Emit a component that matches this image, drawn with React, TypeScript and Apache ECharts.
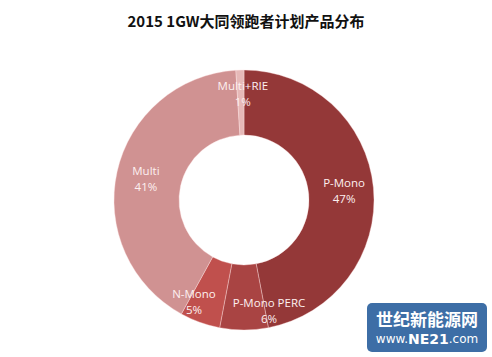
import React, { useEffect, useRef } from "react";
import * as echarts from "echarts";

const categories = ["P-Mono", "P-Mono PERC", "N-Mono", "Multi", "Multi+RIE"];
const values = [47, 6, 5, 41, 1];
const colors = ["#943838", "#a94443", "#c0504d", "#d09292", "#e6b9b8"];
const titleText = "2015 1GW大同领跑者计划产品分布";
// label nudges (dx, dy) to mimic the reference placement
const labelShift: [number, number][] = [[0, 0], [25, 10], [-16, 7], [0, 0], [2, -6]];

export default function App() {
  const ref = useRef<HTMLDivElement>(null);
  useEffect(() => {
    document.body.style.margin = "0";
    const chart = echarts.init(ref.current!, null, { renderer: "svg" });
    chart.setOption({
      animation: false,
      backgroundColor: "#ffffff",
      title: {
        text: titleText,
        left: "center",
        top: 8,
        textStyle: { fontSize: 15, fontWeight: "bold", color: "#111", fontFamily: "Noto Sans CJK SC" },
      },
      series: [
        {
          type: "pie",
          center: [244, 200],
          radius: [65, 130],
          startAngle: 90,
          clockwise: true,
          data: categories.map((c, i) => ({ name: c, value: values[i], itemStyle: { color: colors[i] } })),
          itemStyle: { borderColor: "rgba(255,225,225,0.55)", borderWidth: 0.7 },
          label: {
            show: true,
            position: "inside",
            formatter: "{b}\n{d}%",
            color: "#fdf0f0",
            fontSize: 11.5,
            lineHeight: 16,
            fontFamily: "Open Sans",
          },
          labelLayout: (p: any) => ({ dx: labelShift[p.dataIndex][0], dy: labelShift[p.dataIndex][1] }),
          emphasis: { disabled: true },
        },
      ],
      graphic: [
        {
          type: "rect",
          shape: { x: 367, y: 303, width: 120, height: 49, r: 5 },
          style: { fill: "#3d6ea6" },
        },
        {
          type: "text",
          x: 427,
          y: 318,
          style: {
            text: "世纪新能源网",
            fill: "#fff",
            fontSize: 17,
            fontWeight: "bold",
            fontFamily: "Noto Sans CJK SC",
            align: "center",
            verticalAlign: "middle",
          },
        },
        {
          type: "text",
          x: 427,
          y: 339,
          style: {
            text: "www.{b|NE21}.com",
            rich: { b: { fontWeight: "bold", fontSize: 14, fill: "#fff", fontFamily: "DejaVu Sans" } },
            fill: "#fff",
            fontSize: 12,
            fontFamily: "DejaVu Sans",
            align: "center",
            verticalAlign: "middle",
          },
        },
      ],
    });
    return () => chart.dispose();
  }, []);
  return <div ref={ref} style={{ width: 492, height: 357 }} />;
}
